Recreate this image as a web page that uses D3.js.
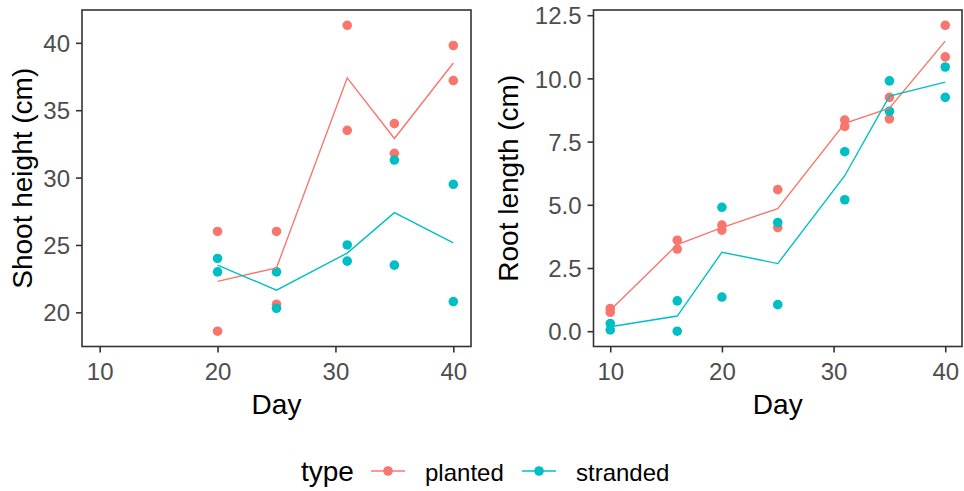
<!DOCTYPE html>
<html>
<head>
<meta charset="utf-8">
<script src="https://cdn.jsdelivr.net/npm/d3@7"></script>
<style>
  html, body { margin: 0; padding: 0; background: #fff; }
  svg { display: block; font-family: "Liberation Sans", Arial, sans-serif; }
</style>
</head>
<body>
<svg id="chart" width="964" height="491"></svg>
<script>
// Sampling days per panel
const shootDays = [20, 25, 31, 35, 40];
const rootDays = [10, 16, 20, 25, 31, 35, 40];

// Two replicate measurements per day and type
const shootPlanted  = [[26.0, 18.6], [26.0, 20.6], [41.3, 33.5], [34.0, 31.8], [39.8, 37.2]];
const shootStranded = [[24.0, 23.0], [23.0, 20.3], [25.0, 23.8], [31.3, 23.5], [29.5, 20.8]];

const rootPlanted  = [[0.9, 0.75], [3.6, 3.25], [4.2, 4.0], [5.6, 4.1], [8.35, 8.1], [9.25, 8.4], [12.1, 10.85]];
const rootStranded = [[0.3, 0.05], [1.2, 0.0], [4.9, 1.35], [4.3, 1.05], [7.1, 5.2], [9.9, 8.7], [10.45, 9.25]];

// Axis ticks and labels
const xTicks = [10, 20, 30, 40];
const shootTicks = [20, 25, 30, 35, 40];
const rootTicks = [0, 2.5, 5, 7.5, 10, 12.5];
const xLimits = [10, 40];

const types = ["planted", "stranded"];
const typeColors = ["#F8766D", "#00BFC4"];

const svg = d3.select("#chart");
svg.append("rect").attr("width", 964).attr("height", 491).attr("fill", "#fff");

const color = d3.scaleOrdinal().domain(types).range(typeColors);

// ggplot-style 5% padding around a continuous range
function expand(lo, hi) {
  const pad = (hi - lo) * 0.05;
  return [lo - pad, hi + pad];
}

function panel(opts) {
  const { left, right, top, bottom, days, series, yTicks, yFormat, yTitle, titleX } = opts;
  const g = svg.append("g");

  const x = d3.scaleLinear().domain(expand(xLimits[0], xLimits[1])).range([left, right]);
  const allVals = series.flatMap(s => s.values.flat());
  const y = d3.scaleLinear().domain(expand(d3.min(allVals), d3.max(allVals))).range([bottom, top]);

  // points
  series.forEach(s => {
    const pts = [];
    s.values.forEach((reps, i) => reps.forEach(v => pts.push({ day: days[i], v })));
    g.append("g").selectAll("circle").data(pts).join("circle")
      .attr("cx", d => x(d.day))
      .attr("cy", d => y(d.v))
      .attr("r", 4.8)
      .attr("fill", color(s.type));
  });

  // mean line per type
  const line = d3.line().x(d => x(d.day)).y(d => y(d.mean));
  series.forEach(s => {
    const means = s.values.map((reps, i) => ({ day: days[i], mean: d3.mean(reps) }));
    g.append("path").datum(means)
      .attr("d", line)
      .attr("fill", "none")
      .attr("stroke", color(s.type))
      .attr("stroke-width", 1.4);
  });

  // panel border
  g.append("rect")
    .attr("x", left).attr("y", top)
    .attr("width", right - left).attr("height", bottom - top)
    .attr("fill", "none").attr("stroke", "#333").attr("stroke-width", 1.6);

  // x axis
  const xAxis = d3.axisBottom(x).tickValues(xTicks).tickSize(6).tickPadding(5).tickSizeOuter(0);
  const xg = g.append("g").attr("transform", `translate(0,${bottom})`).call(xAxis);
  xg.select(".domain").remove();
  xg.selectAll(".tick line").attr("stroke", "#333").attr("stroke-width", 1.6);
  xg.selectAll(".tick text")
    .attr("fill", "#4D4D4D").attr("font-size", 24)
    .attr("font-family", "Liberation Sans, Arial, sans-serif")
    .attr("dy", null).attr("y", 33);

  // y axis
  const yAxis = d3.axisLeft(y).tickValues(yTicks).tickFormat(yFormat).tickSize(6).tickPadding(5).tickSizeOuter(0);
  const yg = g.append("g").attr("transform", `translate(${left},0)`).call(yAxis);
  yg.select(".domain").remove();
  yg.selectAll(".tick line").attr("stroke", "#333").attr("stroke-width", 1.6);
  yg.selectAll(".tick text")
    .attr("fill", "#4D4D4D").attr("font-size", 24)
    .attr("font-family", "Liberation Sans, Arial, sans-serif")
    .attr("x", -12).attr("dy", "0.36em");

  // axis titles
  g.append("text")
    .attr("x", (left + right) / 2).attr("y", 414)
    .attr("text-anchor", "middle").attr("font-size", 28).attr("fill", "#000")
    .text("Day");
  g.append("text")
    .attr("transform", `translate(${titleX},${(top + bottom) / 2}) rotate(-90)`)
    .attr("text-anchor", "middle").attr("font-size", 28).attr("fill", "#000")
    .text(yTitle);
}

panel({
  left: 82, right: 471, top: 10, bottom: 346.5,
  days: shootDays,
  series: [
    { type: "planted", values: shootPlanted },
    { type: "stranded", values: shootStranded }
  ],
  yTicks: shootTicks, yFormat: d3.format("d"),
  yTitle: "Shoot height (cm)", titleX: 32
});

panel({
  left: 593.5, right: 962, top: 10, bottom: 346.5,
  days: rootDays,
  series: [
    { type: "planted", values: rootPlanted },
    { type: "stranded", values: rootStranded }
  ],
  yTicks: rootTicks, yFormat: d3.format(".1f"),
  yTitle: "Root length (cm)", titleX: 518
});

// legend
const legend = svg.append("g");
legend.append("text").attr("x", 301).attr("y", 481)
  .attr("font-size", 28).attr("fill", "#000").text("type");
const keyX = [371, 522];
types.forEach((t, i) => {
  const k = legend.append("g").attr("transform", `translate(${keyX[i]},471)`);
  k.append("line").attr("x1", 0).attr("x2", 34).attr("y1", 0).attr("y2", 0)
    .attr("stroke", color(t)).attr("stroke-width", 1.4);
  k.append("circle").attr("cx", 17).attr("cy", 0).attr("r", 4.8).attr("fill", color(t));
  k.append("text").attr("x", 54).attr("y", 10)
    .attr("font-size", 24).attr("fill", "#000").text(t);
});
</script>
</body>
</html>
